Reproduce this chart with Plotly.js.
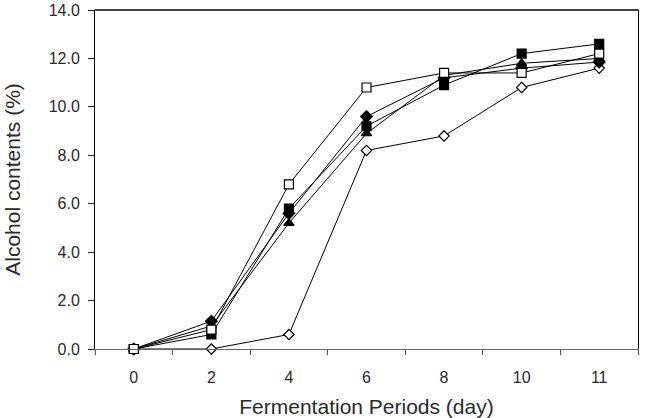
<!DOCTYPE html>
<html>
<head>
<meta charset="utf-8">
<script src="https://cdn.plot.ly/plotly-3.0.1.min.js"></script>
<style>html,body{margin:0;padding:0;background:#fff;}#chart{width:645px;height:418px;}</style>
</head>
<body>
<div id="chart"></div>
<script>
var days = ["0", "2", "4", "6", "8", "10", "11"];
var openSquare   = [0, 0.8, 6.8, 10.8, 11.4, 11.4, 12.2];
var filledSquare = [0, 0.6, 5.8, 9.2, 10.9, 12.2, 12.6];
var filledDiamond= [0, 1.15, 5.6, 9.6, 11.2, 11.6, 11.85];
var filledTriangle=[0, 0.95, 5.2, 8.9, 11.3, 11.8, 12.0];
var openDiamond  = [0, 0, 0.6, 8.2, 8.8, 10.8, 11.6];

function tr(y, sym, fill, size) {
  return {
    x: days, y: y, type: "scatter", mode: "lines+markers",
    line: {color: "#000", width: 1},
    marker: {symbol: sym, size: size, color: fill, line: {color: "#000", width: 1.2}},
    cliponaxis: false, showlegend: false
  };
}
var data = [
  tr(openDiamond, "diamond", "#fff", 8),
  tr(filledTriangle, "triangle-up", "#000", 9),
  tr(filledDiamond, "diamond", "#000", 9),
  tr(filledSquare, "square", "#000", 9),
  tr(openSquare, "square", "#fff", 9)
];
var layout = {
  width: 645, height: 418,
  margin: {l: 95, r: 7, t: 10, b: 69},
  paper_bgcolor: "#fff", plot_bgcolor: "#fff",
  font: {family: "Liberation Sans, Arial, sans-serif", size: 16, color: "#2a2a2a"},
  xaxis: {
    type: "category", range: [-0.5, 6.5], tickson: "boundaries",
    ticks: "outside", ticklen: 5, tickcolor: "#555", ticklabelstandoff: 14,
    showline: true, linecolor: "#666", linewidth: 1, mirror: false,
    showgrid: false, zeroline: false,
    tickfont: {size: 16, color: "#2a2a2a"},
    title: {text: "Fermentation Periods (day)", font: {size: 21, color: "#2a2a2a"}, standoff: 16}
  },
  yaxis: {
    range: [0, 14], dtick: 2, tickformat: ".1f",
    ticks: "outside", ticklen: 6, tickcolor: "#222", ticklabelstandoff: 5,
    showline: true, linecolor: "#000", linewidth: 1, mirror: true,
    showgrid: false, zeroline: false,
    tickfont: {size: 16, color: "#2a2a2a"},
    title: {text: "Alcohol contents (%)", font: {size: 21, color: "#2a2a2a"}, standoff: 22}
  },
  shapes: [{type: "line", xref: "paper", yref: "paper", x0: 0, x1: 1, y0: 1, y1: 1, line: {color: "#000", width: 1.5}}]
};
Plotly.newPlot("chart", data, layout, {displayModeBar: false, staticPlot: true});
</script>
</body>
</html>
